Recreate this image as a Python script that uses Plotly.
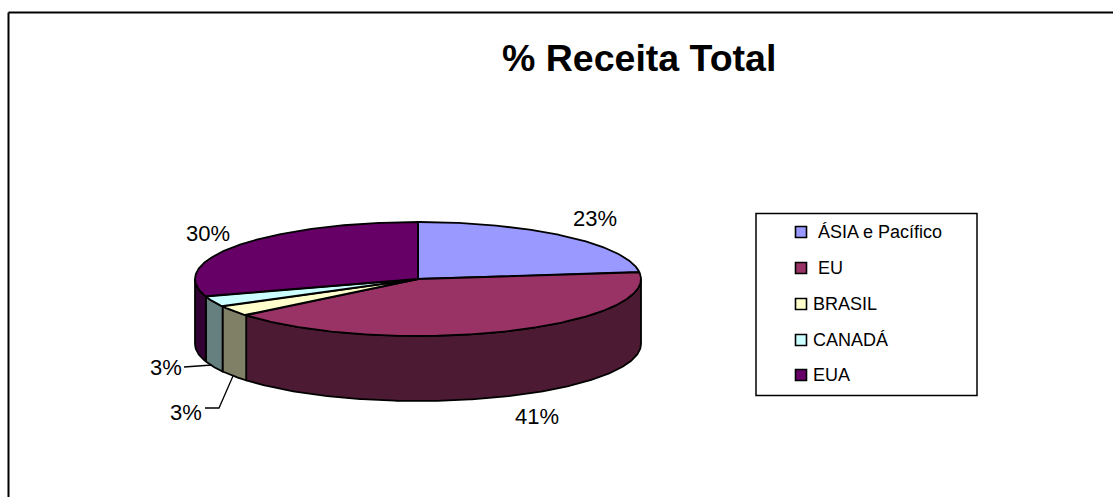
import numpy as np
import plotly.graph_objects as go

# --- data
categories = ["ÁSIA e Pacífico", "EU", "BRASIL", "CANADÁ", "EUA"]
values = [23, 41, 3, 3, 30]
chart_title = "% Receita Total"

# --- styles
top_colors = ["#9999FF", "#993366", "#FFFFCC", "#CCFFFF", "#660066"]
side_colors = ["#4D4D80", "#4D1A33", "#808066", "#668080", "#330033"]
FONT = "Liberation Sans, Arial, sans-serif"
W, H = 1113, 497

# --- pie geometry (pixel layout of the plot area)
CX, CY, RX, RY, DEPTH = 418, 279, 223, 57, 65
ANGLE_STEP = 0.5
OUTLINE = 1.8


def px(theta):
    return CX + RX * np.sin(np.radians(theta))


def py(theta):
    return CY - RY * np.cos(np.radians(theta))


total = sum(values)
edges = np.concatenate([[0], np.cumsum(values)]) * 360.0 / total

fig = go.Figure()

# side walls (only the part facing the viewer, 90..270 degrees)
for i, name in enumerate(categories):
    a0, a1 = max(edges[i], 90), min(edges[i + 1], 270)
    if a1 <= a0:
        continue
    th = np.arange(a0, a1 + ANGLE_STEP / 2, ANGLE_STEP)
    th = np.append(th[th < a1], a1)
    xs = np.concatenate([px(th), px(th[::-1]), [px(th[0])]])
    ys = np.concatenate([py(th), py(th[::-1]) + DEPTH, [py(th[0])]])
    fig.add_trace(go.Scatter(x=xs, y=ys, mode="lines", fill="toself",
                             fillcolor=side_colors[i],
                             line=dict(color="#000000", width=OUTLINE),
                             hoverinfo="skip", showlegend=False))

# top faces
for i, name in enumerate(categories):
    th = np.arange(edges[i], edges[i + 1], ANGLE_STEP)
    th = np.append(th, edges[i + 1])
    xs = np.concatenate([[CX], px(th), [CX]])
    ys = np.concatenate([[CY], py(th), [CY]])
    fig.add_trace(go.Scatter(x=xs, y=ys, mode="lines", fill="toself",
                             fillcolor=top_colors[i],
                             line=dict(color="#000000", width=OUTLINE),
                             name=name, text=f"{values[i]}%", hoverinfo="name+text",
                             showlegend=False))

# leader lines for the two small labels
leader_x = [[184, 197, 212], [205, 219, 233]]
leader_y = [[367, 366, 365], [408, 408, 376]]
for lx, ly in zip(leader_x, leader_y):
    fig.add_trace(go.Scatter(x=lx, y=ly, mode="lines", hoverinfo="skip", showlegend=False,
                             line=dict(color="#000000", width=1.3)))

# data labels
label_x = [595, 537, 186, 166, 208]
label_y = [218, 416, 412, 367, 233]
annotations = []
for i, v in enumerate(values):
    annotations.append(dict(x=label_x[i], y=label_y[i], text=f"{v}%", showarrow=False,
                            xanchor="center", yanchor="middle",
                            font=dict(family=FONT, size=22, color="#000000")))

# title
annotations.append(dict(x=638.5, y=58, text=chart_title, showarrow=False, xanchor="center",
                        yanchor="middle",
                        font=dict(family=FONT, size=37.5, color="#000000", weight="bold")))

# legend
legend_y = [232, 268, 304, 340, 375]
legend_text_x = [816, 816, 811, 811, 811]
fig.add_trace(go.Scatter(x=[801] * len(categories), y=legend_y, mode="markers",
                         hoverinfo="skip", showlegend=False,
                         marker=dict(symbol="square", size=11, color=top_colors,
                                     line=dict(color="#000000", width=1.6))))
for i, name in enumerate(categories):
    annotations.append(dict(x=legend_text_x[i], y=legend_y[i], text=name, showarrow=False,
                            xanchor="left", yanchor="middle",
                            font=dict(family=FONT, size=18, color="#000000")))

shapes = [
    dict(type="rect", x0=756, x1=977, y0=213.5, y1=395.5,
         line=dict(color="#000000", width=1.5), fillcolor="rgba(0,0,0,0)"),
    dict(type="line", x0=8.5, x1=W, y0=12.5, y1=12.5, line=dict(color="#000000", width=2)),
    dict(type="line", x0=8.5, x1=8.5, y0=12.5, y1=H, line=dict(color="#000000", width=2)),
]

fig.update_layout(
    width=W, height=H, margin=dict(l=0, r=0, t=0, b=0),
    paper_bgcolor="#FFFFFF", plot_bgcolor="#FFFFFF", showlegend=False,
    xaxis=dict(range=[0, W], visible=False, fixedrange=True),
    yaxis=dict(range=[H, 0], visible=False, fixedrange=True),
    annotations=annotations, shapes=shapes,
)

fig.write_html("out.html", config=dict(displayModeBar=False),
               post_script="document.body.style.margin='0';document.body.style.overflow='hidden';")
